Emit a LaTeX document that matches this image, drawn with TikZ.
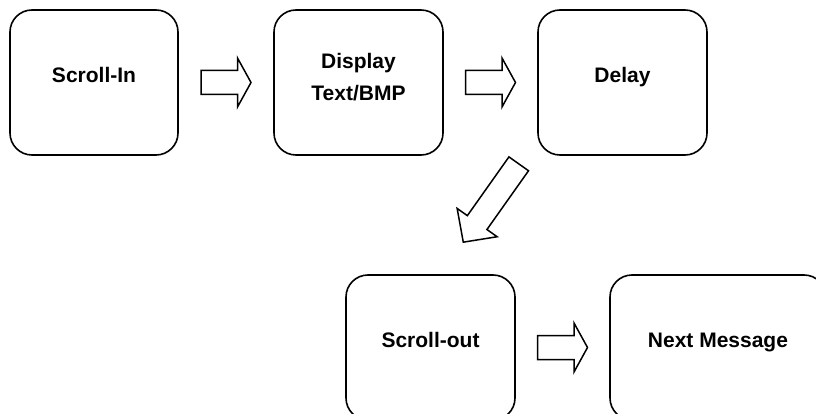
\documentclass[tikz,border=0pt]{standalone}
\usepackage{fontspec}
\setmainfont{Liberation Sans}
\usetikzlibrary{calc}

\tikzset{
  stage/.style={draw, line width=1.6pt, rounded corners=22pt, minimum width=169pt, minimum height=145pt, inner sep=0pt},
  stagetext/.style={font=\bfseries\fontsize{21}{32.7}\selectfont, align=center, inner sep=0pt},
  blockarrow/.style={draw, line width=1.5pt, line join=miter}
}

\begin{document}
\begin{tikzpicture}[x=1pt,y=-1pt]
	\useasboundingbox (0,0) rectangle (816,414);
	\clip (0,0) rectangle (816,414);
	% the five stages
	\node[stage, minimum width=168pt] (scrollin) at (94,82.5) {};
	\node[stage] (display) at (358.5,82.5) {};
	\node[stage] (delay) at (622.5,82.5) {};
	\node[stage] (scrollout) at (430.5,347.5) {};
	\node[stage, minimum width=216pt] (next) at (718,347.5) {};
	\foreach \s/\t in {scrollin/Scroll-In,delay/Delay,scrollout/Scroll-out,next/Next Message}
		\node[stagetext, anchor=base] (\s txt) at (\s.center) {\t};
	\node[stagetext] (displaytxt) at ([yshift=5.5pt]display.center) {Display\\Text/BMP};
	% block arrows
	\path
	($(scrollin.east)!0.5!(display.west)$) coordinate(toDisplay)
	($(display.east)!0.5!(delay.west)$) coordinate(toDelay)
	(491,203) coordinate(toScrollout)
	($(scrollout.east)!0.5!(next.west)$) coordinate(toNext)
	;
	\foreach \c/\r/\l/\h in {toDisplay/0/25/13.5,toDelay/0/25/13.5,toNext/0/25/13.5,toScrollout/234.7/48/24}
		\draw[blockarrow, shift={(\c)}, rotate=\r] (-\l,-12) -- (\l-\h,-12) -- (\l-\h,-24.5) -- (\l,0) -- (\l-\h,24.5) -- (\l-\h,12) -- (-\l,12) -- cycle;
\end{tikzpicture}
\end{document}
